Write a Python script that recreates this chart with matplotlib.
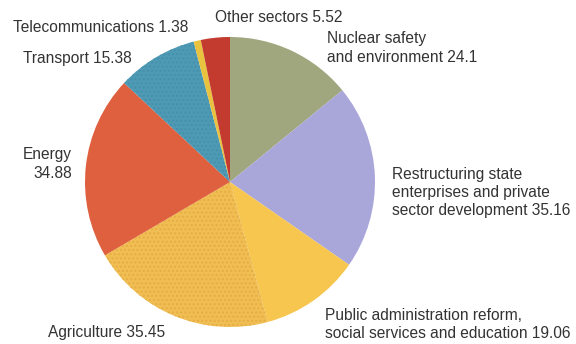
import matplotlib.pyplot as plt

sectors = ['Nuclear safety\nand environment', 'Restructuring state\nenterprises and private\nsector development',
           'Public administration reform,\nsocial services and education', 'Agriculture', 'Energy',
           'Transport', 'Telecommunications', 'Other sectors']
values = [24.1, 35.16, 19.06, 35.45, 34.88, 15.38, 1.38, 5.52]
colors = ['#a0a77e', '#a9a6da', '#f7c64f', '#f0be52', '#de603f', '#4e9ab4', '#e9c33f', '#c33a2f']

W, H = 576, 344
fig = plt.figure(figsize=(W / 100, H / 100), dpi=100)
ax = fig.add_axes([0, 0, 1, 1])

wedges, _ = ax.pie(values, colors=colors, startangle=90, counterclock=False,
                   center=(230, H - 182), radius=145,
                   wedgeprops=dict(linewidth=0))
# stippled slices
for i, hc in [(3, '#e6ad45'), (5, '#4590aa')]:
    wedges[i].set_hatch('....')
    wedges[i].set_edgecolor(hc)

ax.set_xlim(0, W)
ax.set_ylim(0, H)
ax.set_aspect('equal')
ax.axis('off')

txt = dict(fontsize=11.2, color='#333333', family='Liberation Sans', va='center', linespacing=1.25)

def label(i, x, y, ha='left', sep=' '):
    return ax.text(x, H - y, f'{sectors[i]}{sep}{values[i]:g}', ha=ha, **txt)

label(0, 327, 48)
label(1, 392, 193)
label(2, 325, 325)
label(3, 48, 333)
label(4, 72, 164, ha='right', sep='\n').set_multialignment('right')
label(5, 23, 59)
label(6, 13, 28)
label(7, 215, 18)

plt.savefig('out.png', dpi=100)
